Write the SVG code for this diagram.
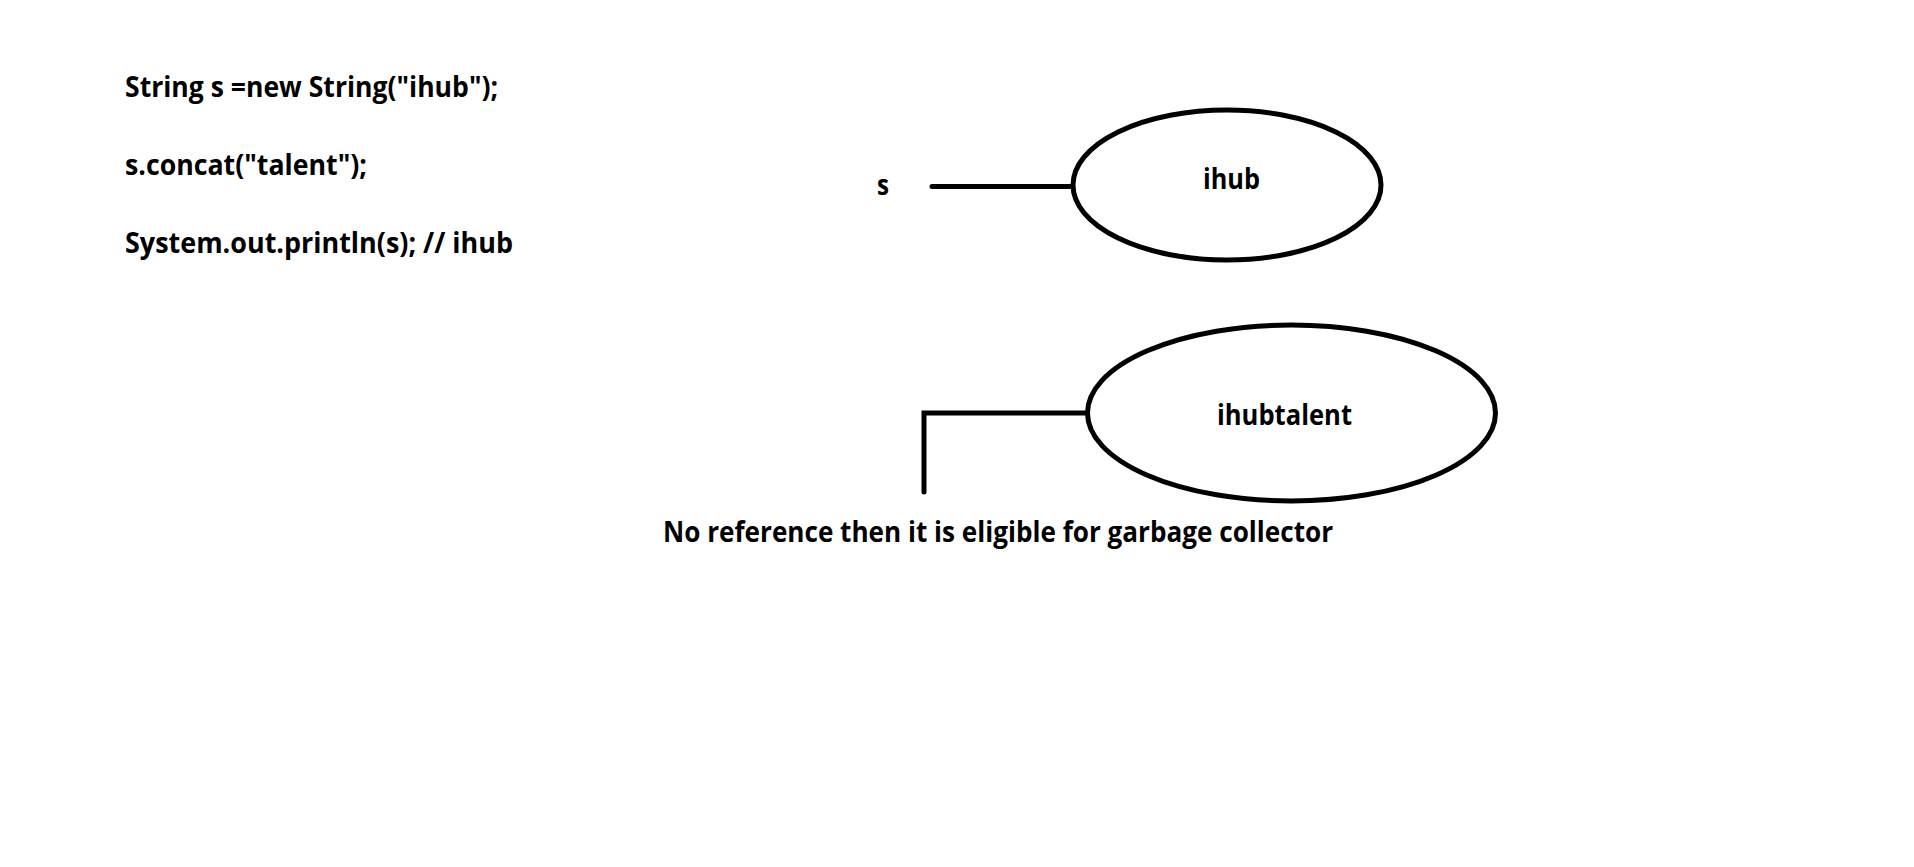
<svg xmlns="http://www.w3.org/2000/svg" width="1914" height="867" viewBox="0 0 1914 867">
<style>
text{font-family:"Open Sans","Noto Sans","Liberation Sans",sans-serif;font-weight:bold;font-size:28px;fill:#000}
.ln{fill:none;stroke:#000;stroke-width:5;stroke-linecap:round;stroke-linejoin:miter}
.ob{fill:#fff;stroke:#000;stroke-width:5}
</style>
<rect width="1914" height="867" fill="#fff"/>
<g id="code">
<text x="125" y="97" textLength="373" lengthAdjust="spacingAndGlyphs">String s =new String("ihub");</text>
<text x="125" y="175" textLength="242" lengthAdjust="spacingAndGlyphs">s.concat("talent");</text>
<text x="125" y="253" textLength="388" lengthAdjust="spacingAndGlyphs">System.out.println(s); // ihub</text>
</g>
<g id="connectors">
<line class="ln" x1="932" y1="186.5" x2="1073" y2="186.5"/>
<polyline class="ln" points="924,492 924,413 1087,413"/>
</g>
<g id="ref-s">
<text x="877" y="195" textLength="12" lengthAdjust="spacingAndGlyphs">s</text>
</g>
<g id="node-ihub">
<ellipse class="ob" cx="1227" cy="185" rx="154" ry="75"/>
<text x="1203" y="189" textLength="57" lengthAdjust="spacingAndGlyphs">ihub</text>
</g>
<g id="node-ihubtalent">
<ellipse class="ob" cx="1291.5" cy="413" rx="204" ry="88"/>
<text x="1217" y="425" textLength="135" lengthAdjust="spacingAndGlyphs">ihubtalent</text>
</g>
<g id="note">
<text x="663" y="542" textLength="670" lengthAdjust="spacingAndGlyphs">No reference then it is eligible for garbage collector</text>
</g>
</svg>
